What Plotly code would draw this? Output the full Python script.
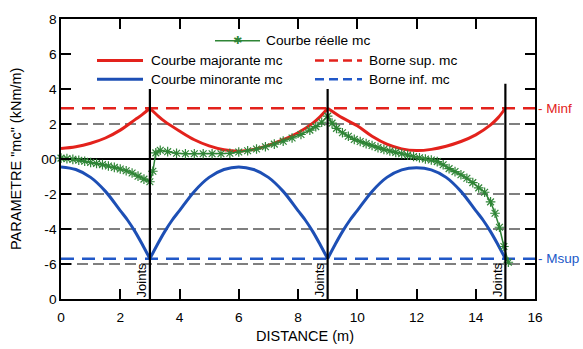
import plotly.graph_objects as go

# ---------------- data ----------------
red_x = [0, 0.5, 1, 1.5, 2, 2.5, 2.75, 3, None,
         3, 3.25, 3.5, 4, 4.5, 5, 5.5, 6, 6.5, 7, 7.5, 8, 8.5, 8.75, 9, None,
         9, 9.25, 9.5, 10, 10.5, 11, 11.5, 12, 12.5, 13, 13.5, 14, 14.5, 14.75, 15]
red_y = [0.6, 0.7, 0.9, 1.2, 1.65, 2.25, 2.55, 2.9, None,
         2.9, 2.5, 2.15, 1.6, 1.1, 0.75, 0.53, 0.45, 0.55, 0.78, 1.1, 1.5, 2.05, 2.42, 2.9, None,
         2.9, 2.62, 2.35, 1.9, 1.3, 0.85, 0.58, 0.48, 0.55, 0.73, 1.0, 1.38, 1.95, 2.35, 2.9]

blue_x = [0, 0.5, 1, 1.5, 2, 2.25, 2.5, 2.75, 3, None,
          3, 3.25, 3.5, 3.75, 4, 4.5, 5, 5.5, 6, 6.5, 7, 7.5, 8, 8.25, 8.5, 8.75, 9, None,
          9, 9.25, 9.5, 9.75, 10, 10.5, 11, 11.5, 12, 12.5, 13, 13.5, 14, 14.25, 14.5, 14.75, 15]
blue_y = [-0.45, -0.6, -1.05, -1.85, -2.95, -3.5, -4.15, -4.9, -5.7, None,
          -5.7, -4.9, -4.15, -3.5, -2.95, -1.85, -1.05, -0.6, -0.45, -0.6, -1.05, -1.85, -2.95, -3.5, -4.15, -4.9, -5.7, None,
          -5.7, -4.9, -4.15, -3.5, -2.95, -1.85, -1.05, -0.62, -0.5, -0.62, -1.05, -1.85, -2.95, -3.5, -4.15, -4.9, -5.7]

green_x = [0, 0.2, 0.4, 0.6, 0.8, 1.0, 1.2, 1.4, 1.6, 1.8, 2.0, 2.2, 2.4, 2.6, 2.8, 3.0,
           3.1, 3.2, 3.35, 3.6, 3.9, 4.2, 4.5, 4.8, 5.1, 5.4, 5.7, 6.0, 6.3, 6.6, 6.9,
           7.2, 7.5, 7.8, 8.1, 8.4, 8.6, 8.8, 9.0, 9.15, 9.3, 9.5, 9.7, 9.9, 10.1, 10.3,
           10.5, 10.7, 10.9, 11.1, 11.3, 11.5, 11.7, 11.9, 12.1, 12.3, 12.5, 12.7, 12.9,
           13.1, 13.3, 13.5, 13.7, 13.9, 14.1, 14.3, 14.5, 14.65, 14.8, 14.95, 15.1]
green_y = [0.05, 0.02, -0.02, -0.07, -0.13, -0.2, -0.26, -0.32, -0.4, -0.48, -0.57, -0.67, -0.8, -0.98, -1.15, -1.3,
           -0.7, 0.35, 0.5, 0.42, 0.33, 0.3, 0.3, 0.3, 0.3, 0.3, 0.33, 0.4, 0.47, 0.57, 0.7,
           0.85, 1.02, 1.2, 1.4, 1.65, 1.85, 2.1, 2.45, 2.05, 1.75, 1.5, 1.3, 1.12, 1.0, 0.88,
           0.77, 0.65, 0.55, 0.46, 0.38, 0.3, 0.22, 0.14, 0.07, 0.0, -0.06, -0.15, -0.33,
           -0.55, -0.72, -0.9, -1.1, -1.35, -1.65, -1.9, -2.45, -3.1, -3.9, -5.0, -5.9]

borne_sup = 2.9
borne_inf = -5.7
bound_x = [0, 16]

joints_x = [3, 9, 15]
joints_top = [4.0, 4.0, 4.3]
grid_y = [2, -2, -4, -6]

y_tickvals = [-8, -6, -4, -2, 0, 2, 4, 6, 8]
y_ticktext = ['0', '-6', '-4', '-2', '00', '2', '4', '6', '8']
x_tickvals = [0, 2, 4, 6, 8, 10, 12, 14, 16]

# ---------------- styles ----------------
RED = '#e3221c'
BLUE = '#1d4fb5'
BLUE_D = '#2158c8'
GREEN = '#2f8536'
FONT = 'Liberation Sans, Arial, sans-serif'
FS = 13.7

W, H = 583, 349
L, R, T, B = 61, 535, 15, 299


def pxx(px):
    return (px - L) / (R - L)


def pxy(py):
    return (B - py) / (B - T)


fig = go.Figure()

fig.add_trace(go.Scatter(x=bound_x, y=[borne_sup, borne_sup], mode='lines',
                         line=dict(color=RED, width=2.5, dash='13px,8px'),
                         cliponaxis=False, hoverinfo='skip'))
fig.add_trace(go.Scatter(x=bound_x, y=[borne_inf, borne_inf], mode='lines',
                         line=dict(color=BLUE_D, width=2.5, dash='13px,8px'),
                         cliponaxis=False, hoverinfo='skip'))
fig.add_trace(go.Scatter(x=red_x, y=red_y, mode='lines',
                         line=dict(color=RED, width=3, shape='spline', smoothing=1.0),
                         connectgaps=False))
fig.add_trace(go.Scatter(x=blue_x, y=blue_y, mode='lines',
                         line=dict(color=BLUE, width=3, shape='spline', smoothing=1.0),
                         connectgaps=False))
fig.add_trace(go.Scatter(x=green_x, y=green_y, mode='lines+markers',
                         line=dict(color=GREEN, width=1.5),
                         marker=dict(symbol='asterisk-open', size=8,
                                     line=dict(color=GREEN, width=1.2)),
                         cliponaxis=False))

shapes = []
for gy in grid_y:
    shapes.append(dict(type='line', xref='x', yref='y', x0=0, x1=16, y0=gy, y1=gy,
                       line=dict(color='#555555', width=1.3, dash='11px,5px'), layer='below'))
for jx, jt in zip(joints_x, joints_top):
    shapes.append(dict(type='line', xref='x', yref='y', x0=jx, x1=jx, y0=-8, y1=jt,
                       line=dict(color='black', width=2.2)))


def leg_line(x0, x1, py, color, dash=None, width=3):
    d = dict(type='line', xref='paper', yref='paper', x0=pxx(x0), x1=pxx(x1),
             y0=pxy(py), y1=pxy(py), line=dict(color=color, width=width))
    if dash:
        d['line']['dash'] = dash
    return d


shapes.append(leg_line(215, 260, 37, GREEN, width=1.5))
shapes.append(leg_line(97, 143, 57, RED))
shapes.append(leg_line(97, 143, 76, BLUE))
shapes.append(leg_line(315, 362, 57, RED, dash='9px,5px', width=2.5))
shapes.append(leg_line(315, 362, 76, BLUE_D, dash='9px,5px', width=2.5))

annotations = []


def leg_text(px, py, text):
    annotations.append(dict(xref='paper', yref='paper', x=pxx(px), y=pxy(py), text=text,
                            showarrow=False, xanchor='left', yanchor='middle',
                            font=dict(family=FONT, size=FS, color='black')))


leg_text(264, 37, 'Courbe réelle mc')
leg_text(149, 57, 'Courbe majorante mc')
leg_text(149, 76, 'Courbe minorante mc')
leg_text(367, 57, 'Borne sup. mc')
leg_text(367, 76, 'Borne inf. mc')

annotations.append(dict(xref='paper', yref='paper', x=pxx(237.5), y=pxy(37), text='✱',
                        showarrow=False, xanchor='center', yanchor='middle',
                        font=dict(family='DejaVu Sans', size=11, color=GREEN)))

for jx in joints_x:
    annotations.append(dict(xref='x', yref='y', x=jx, y=-8, text='Joints', textangle=-90,
                            showarrow=False, xanchor='right', yanchor='bottom', xshift=1,
                            font=dict(family=FONT, size=13, color='black')))

annotations.append(dict(xref='paper', yref='y', x=1, y=borne_sup, text='- Minf', showarrow=False,
                        xanchor='left', yanchor='middle', xshift=2, borderpad=0,
                        font=dict(family=FONT, size=13.5, color=RED)))
annotations.append(dict(xref='paper', yref='y', x=1, y=borne_inf, text='- Msup', showarrow=False,
                        xanchor='left', yanchor='middle', xshift=2, borderpad=0,
                        font=dict(family=FONT, size=13.5, color=BLUE_D)))

annotations.append(dict(xref='paper', yref='paper', x=pxx(305), y=pxy(337), text='DISTANCE (m)',
                        showarrow=False, xanchor='center', yanchor='middle',
                        font=dict(family=FONT, size=14.5, color='black')))
annotations.append(dict(xref='paper', yref='paper', x=pxx(16), y=pxy(157),
                        text='PARAMETRE "mc" (kNm/m)', textangle=-90,
                        showarrow=False, xanchor='center', yanchor='middle',
                        font=dict(family=FONT, size=14.5, color='black')))

fig.update_layout(
    width=W, height=H,
    margin=dict(l=L, r=W - R, t=T, b=H - B),
    paper_bgcolor='white', plot_bgcolor='white',
    showlegend=False,
    hovermode=False,
    shapes=shapes,
    annotations=annotations,
    font=dict(family=FONT, size=FS, color='black'),
    xaxis=dict(range=[0, 16], tickvals=x_tickvals, ticks='inside', ticklen=10,
               tickwidth=1.5, tickcolor='black', showline=True, linecolor='black',
               linewidth=1.5, mirror='ticks', showgrid=False, zeroline=False,
               tickfont=dict(family=FONT, size=FS), ticklabelstandoff=5),
    yaxis=dict(range=[-8, 8], tickvals=y_tickvals, ticktext=y_ticktext, ticks='inside',
               ticklen=10, tickwidth=1.5, tickcolor='black', showline=True,
               linecolor='black', linewidth=1.5, mirror='ticks', showgrid=False,
               zeroline=True, zerolinecolor='black', zerolinewidth=1.5,
               tickfont=dict(family=FONT, size=FS)),
)

fig.write_html('out.html', config={'displayModeBar': False},
               post_script="document.body.style.margin='0';document.body.style.padding='0';")
